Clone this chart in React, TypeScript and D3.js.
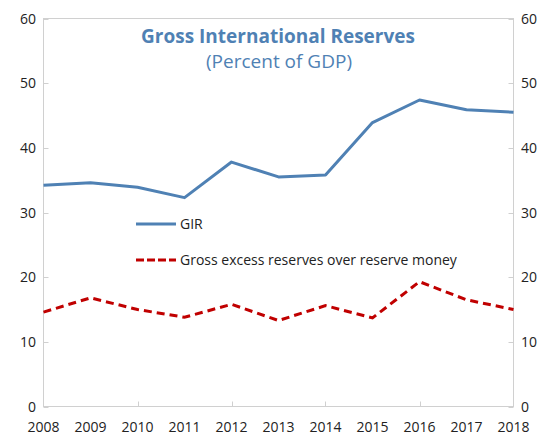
import React from "react";
import * as d3 from "d3";

const years = [2008, 2009, 2010, 2011, 2012, 2013, 2014, 2015, 2016, 2017, 2018];
const girValues = [34.2, 34.6, 33.9, 32.3, 37.8, 35.5, 35.8, 43.9, 47.4, 45.9, 45.5];
const excessValues = [14.6, 16.8, 15.0, 13.8, 15.8, 13.3, 15.6, 13.7, 19.3, 16.5, 15.0];
const yTicks = [0, 10, 20, 30, 40, 50, 60];
const xTickYears = [2010, 2012, 2014, 2016];
const seriesNames = ["GIR", "Gross excess reserves over reserve money"];
const titleText = "Gross International Reserves";
const subtitleText = "(Percent of GDP)";

const W = 557;
const H = 437;
const L = 43.5;
const R = 513.5;
const T = 18.5;
const B = 406.5;
const FONT = "'Open Sans', 'Noto Sans', sans-serif";
const BLUE = "#4F81B4";
const RED = "#C00000";
const GRID = "#D0D0D0";
const TEXT = "#222";

export default function App() {
  const x = d3.scaleLinear().domain([2008, 2018]).range([L, R]);
  const y = d3.scaleLinear().domain([0, 60]).range([B, T]);
  const line = d3
    .line<number>()
    .x((_, i) => x(years[i]))
    .y((d) => y(d));

  return (
    <svg
      width={W}
      height={H}
      style={{ position: "absolute", left: 0, top: 0, background: "#fff" }}
      fontFamily={FONT}
    >
      <rect x={L} y={T} width={R - L} height={B - T} fill="none" stroke={GRID} strokeWidth={1} />
      {yTicks.map((t) => (
        <g key={t}>
          <line x1={L} x2={L + 5} y1={Math.round(y(t)) + 0.5} y2={Math.round(y(t)) + 0.5} stroke={GRID} />
          <line x1={R - 5} x2={R} y1={Math.round(y(t)) + 0.5} y2={Math.round(y(t)) + 0.5} stroke={GRID} />
          <text x={36} y={y(t) + 5} textAnchor="end" fontSize={14} fill={TEXT}>
            {t}
          </text>
          <text x={521} y={y(t) + 5} textAnchor="start" fontSize={14} fill={TEXT}>
            {t}
          </text>
        </g>
      ))}
      {xTickYears.map((yr) => (
        <line key={yr} x1={Math.round(x(yr)) + 0.5} x2={Math.round(x(yr)) + 0.5} y1={B - 5} y2={B} stroke={GRID} />
      ))}
      {years.map((yr) => (
        <text key={yr} x={x(yr)} y={432} textAnchor="middle" fontSize={14} fill={TEXT}>
          {yr}
        </text>
      ))}
      <path d={line(girValues) || ""} fill="none" stroke={BLUE} strokeWidth={3} strokeLinejoin="round" />
      <path
        d={line(excessValues) || ""}
        fill="none"
        stroke={RED}
        strokeWidth={3}
        strokeDasharray="8,5"
      />
      <text x={278} y={43} textAnchor="middle" fontSize={19} fontWeight="bold" fill={BLUE}>
        {titleText}
      </text>
      <text x={279} y={68} textAnchor="middle" fontSize={19} fill={BLUE}>
        {subtitleText}
      </text>
      <line x1={136} x2={176} y1={224} y2={224} stroke={BLUE} strokeWidth={3} />
      <text x={180} y={229} fontSize={14} fill={TEXT}>
        {seriesNames[0]}
      </text>
      <line x1={136} x2={176} y1={260} y2={260} stroke={RED} strokeWidth={3} strokeDasharray="8,3" />
      <text x={180} y={265} fontSize={14} fill={TEXT}>
        {seriesNames[1]}
      </text>
    </svg>
  );
}
